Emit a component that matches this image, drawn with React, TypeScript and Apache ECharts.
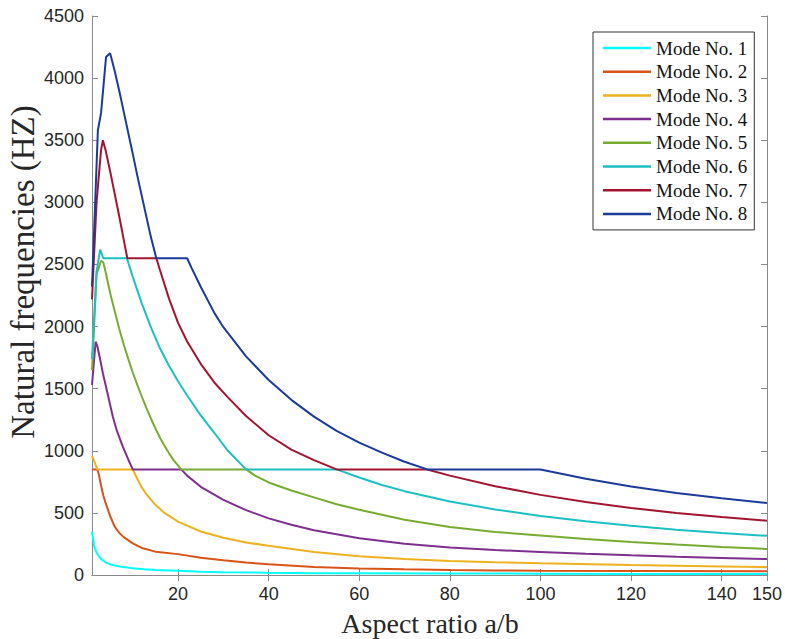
import React, { useEffect, useRef } from "react";
import * as echarts from "echarts";

const modeNames = [
  "Mode No. 1",
  "Mode No. 2",
  "Mode No. 3",
  "Mode No. 4",
  "Mode No. 5",
  "Mode No. 6",
  "Mode No. 7",
  "Mode No. 8",
];

const modeColors = [
  "#00FFFF",
  "#D95319",
  "#EDB120",
  "#7E2F8E",
  "#77AC30",
  "#1CBFC2",
  "#A2142F",
  "#1B3A9A",
];

const mode1 = [[1,349],[1.5,228],[2,180],[2.6,147],[3,130],[4,102],[5,86],[6,76],[7.5,66],[10,54],[12.5,46],[15,41],[20,34],[25,27],[30,23],[40,18],[50,15],[60,14],[80,12],[100,11],[120,9],[150,8]];
const mode2 = [[1,850],[2.2,850],[2.5,810],[3,720],[3.5,640],[4,580],[5,475],[6,390],[7,340],[8,305],[10,255],[12,218],[15,188],[20,168],[25,138],[30,118],[35,100],[40,86],[50,64],[60,53],[70,46],[80,41],[90,37],[100,35],[120,33],[150,30]];
const mode3 = [[1,958],[1.5,915],[2.2,850],[10,850],[11,775],[12,705],[13,650],[15,565],[17,500],[20,430],[25,350],[30,300],[35,262],[40,235],[50,185],[60,150],[70,128],[80,113],[90,103],[100,95],[120,80],[140,69],[150,64]];
const mode4 = [[1,1530],[1.8,1878],[2.2,1840],[3,1700],[3.4,1624],[4,1530],[5,1370],[5.6,1274],[6.5,1160],[7.8,1033],[9,930],[10,850],[20.7,850],[22,800],[25,710],[30,605],[35,522],[40,456],[45,404],[50,361],[60,296],[70,252],[80,222],[90,201],[100,186],[110,171],[120,158],[130,147],[140,137],[150,128]];
const mode5 = [[1,1650],[2,2420],[3,2530],[3.5,2515],[4,2440],[5,2270],[6,2125],[7,1985],[8,1855],[9,1740],[10,1630],[11,1530],[12,1435],[13,1345],[14,1260],[15,1180],[16,1105],[17,1040],[18,980],[19,925],[20.7,850],[35,850],[37,800],[40,745],[45,680],[50,625],[55,570],[60,525],[70,445],[80,387],[90,347],[100,318],[110,290],[120,266],[130,245],[140,226],[150,210]];
const mode6 = [[1,1740],[2,2440],[2.8,2620],[3.5,2550],[8.7,2550],[10,2400],[12,2185],[14,1995],[16,1825],[18,1685],[20,1560],[22,1445],[25,1285],[28,1145],[31,1000],[35,850],[55,850],[60,785],[65,725],[70,675],[80,592],[90,528],[100,475],[110,432],[120,396],[130,365],[140,338],[150,315]];
const mode7 = [[1,2220],[2,3000],[3,3420],[3.4,3500],[4,3420],[5,3250],[6,3070],[7,2890],[8,2700],[8.8,2550],[15.2,2550],[16,2455],[18,2225],[20,2030],[22,1880],[25,1700],[28,1550],[31,1430],[35,1280],[40,1125],[45,1010],[50,925],[55,850],[75,850],[80,800],[90,715],[100,645],[110,588],[120,540],[130,500],[140,466],[150,437]];
const mode8 = [[1,2320],[2.3,3580],[3,3720],[4.1,4170],[5,4200],[6,4060],[7,3900],[8,3730],[9,3560],[10,3390],[11,3215],[12,3050],[13,2885],[14,2720],[15.2,2550],[22,2550],[23,2470],[25,2320],[28,2110],[30,1995],[35,1760],[40,1570],[45,1410],[50,1275],[55,1160],[60,1065],[65,985],[70,912],[75,850],[100,850],[110,775],[120,712],[130,660],[140,617],[150,580]];

const modeData = [mode1, mode2, mode3, mode4, mode5, mode6, mode7, mode8];

const xTickValues = [20, 40, 60, 80, 100, 120, 140, 150];
const xMin = 1;
const xMax = 150;
const yMin = 0;
const yMax = 4500;
const yInterval = 500;

const xTitle = "Aspect ratio a/b";
const yTitle = "Natural frequencies (HZ)";

export default function App() {
  const ref = useRef<HTMLDivElement>(null);

  useEffect(() => {
    document.body.style.margin = "0";
    if (!ref.current) return;
    const chart = echarts.init(ref.current, undefined, { renderer: "svg" });
    const axisColor = "#8a8a8a";
    const labelFont = {
      fontFamily: "Liberation Sans, Arial, sans-serif",
      fontSize: 18,
      color: "#262626",
    };
    const tickCfg = { inside: true, length: 6, lineStyle: { color: axisColor, width: 1 } };
    const option: any = {
      animation: false,
      backgroundColor: "#ffffff",
      grid: { left: 92, right: 17, top: 16, bottom: 64, containLabel: false },
      xAxis: [
        {
          type: "value",
          min: xMin,
          max: xMax,
          position: "bottom",
          axisLine: { show: true, lineStyle: { color: axisColor, width: 1 } },
          axisTick: { ...tickCfg, customValues: xTickValues },
          axisLabel: { ...labelFont, margin: 10, customValues: xTickValues, formatter: (v: number) => String(v) },
          splitLine: { show: false },
        },
        {
          type: "value",
          min: xMin,
          max: xMax,
          position: "top",
          axisLine: { show: true, lineStyle: { color: axisColor, width: 1 } },
          axisTick: { ...tickCfg, customValues: xTickValues },
          axisLabel: { show: false },
          splitLine: { show: false },
        },
      ],
      yAxis: [
        {
          type: "value",
          min: yMin,
          max: yMax,
          interval: yInterval,
          position: "left",
          axisLine: { show: true, lineStyle: { color: axisColor, width: 1 } },
          axisTick: tickCfg,
          axisLabel: { ...labelFont, margin: 8, formatter: (v: number) => String(v) },
          splitLine: { show: false },
        },
        {
          type: "value",
          min: yMin,
          max: yMax,
          interval: yInterval,
          position: "right",
          axisLine: { show: true, lineStyle: { color: axisColor, width: 1 } },
          axisTick: tickCfg,
          axisLabel: { show: false },
          splitLine: { show: false },
        },
      ],
      legend: {
        show: true,
        orient: "vertical",
        left: 593,
        top: 32,
        padding: [6, 7, 6, 10],
        icon: "rect",
        itemWidth: 48,
        itemHeight: 2.5,
        itemGap: 3.7,
        borderColor: "#333333",
        borderWidth: 1,
        backgroundColor: "#ffffff",
        textStyle: {
          fontFamily: "Liberation Serif, Times New Roman, serif",
          fontSize: 19,
          lineHeight: 20,
          color: "#111111",
        },
        data: modeNames,
      },
      graphic: [
        {
          type: "text",
          x: 430,
          y: 623,
          style: {
            text: xTitle,
            fontFamily: "Liberation Serif, Times New Roman, serif",
            fontSize: 28,
            fill: "#262626",
            textAlign: "center",
            textVerticalAlign: "middle",
          },
        },
        {
          type: "text",
          x: 23,
          y: 272,
          rotation: Math.PI / 2,
          style: {
            text: yTitle,
            fontFamily: "Liberation Serif, Times New Roman, serif",
            fontSize: 33,
            fill: "#262626",
            textAlign: "center",
            textVerticalAlign: "middle",
          },
        },
      ],
      series: modeData.map((d, i) => ({
        name: modeNames[i],
        type: "line",
        xAxisIndex: 0,
        yAxisIndex: 0,
        data: d,
        symbol: "none",
        smooth: false,
        lineStyle: { color: modeColors[i], width: 2 },
        itemStyle: { color: modeColors[i] },
      })),
    };
    chart.setOption(option);
    return () => chart.dispose();
  }, []);

  return <div ref={ref} style={{ width: 785, height: 639 }} />;
}
